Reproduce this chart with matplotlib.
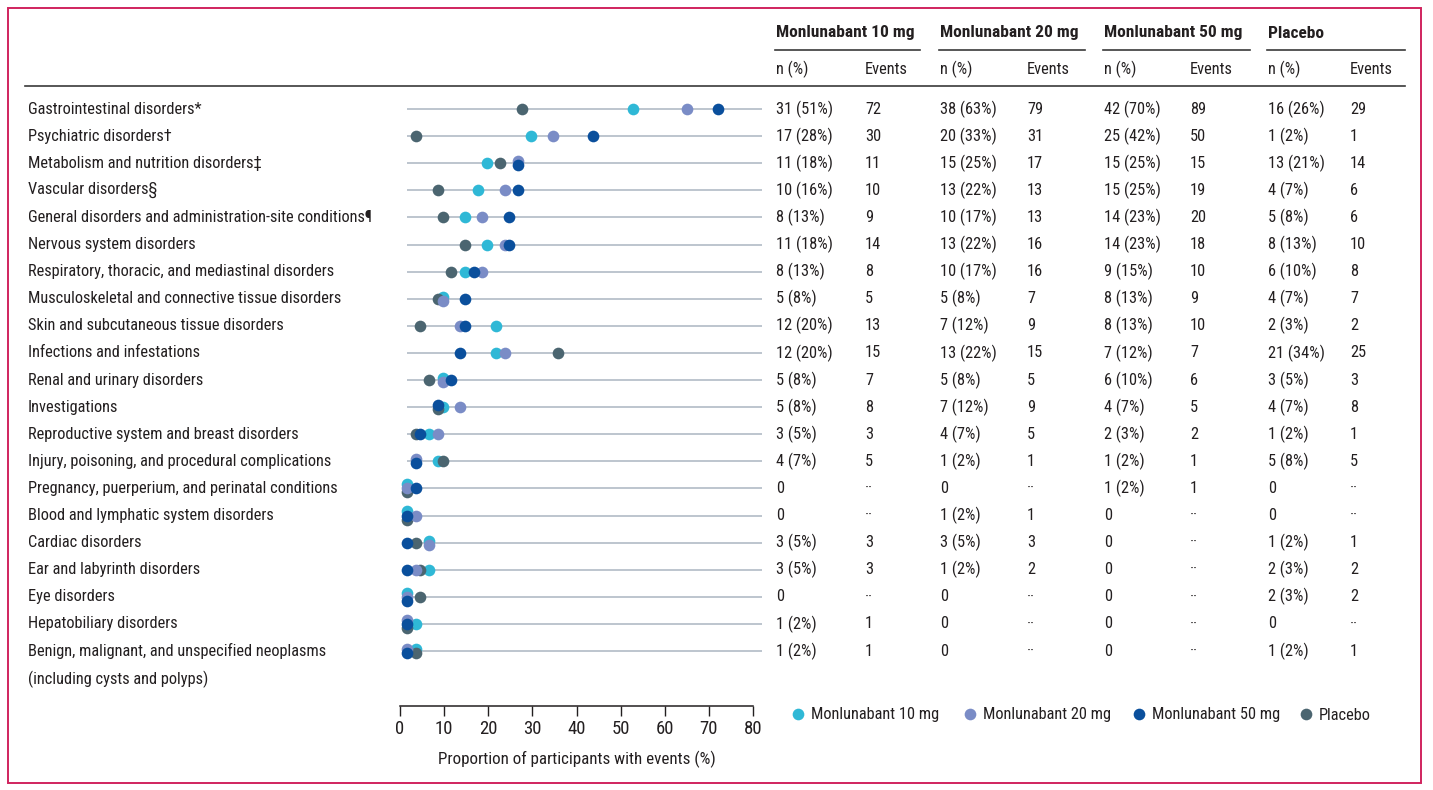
import matplotlib
matplotlib.use('Agg')
import matplotlib.pyplot as plt
from matplotlib import font_manager, transforms
from matplotlib.lines import Line2D
from matplotlib.patches import Rectangle

names = {f.name for f in font_manager.fontManager.ttflist}
FONT = 'Roboto'
for cand in ['Roboto Condensed', 'Liberation Sans Narrow', 'Noto Sans Condensed', 'Open Sans Condensed']:
    if cand in names:
        FONT = cand
        break
plt.rcParams['font.family'] = [FONT, 'DejaVu Sans']

# ---------------- data ----------------
categories = [
    "Gastrointestinal disorders*",
    "Psychiatric disorders\u2020",
    "Metabolism and nutrition disorders\u2021",
    "Vascular disorders\u00a7",
    "General disorders and administration-site conditions\u00b6",
    "Nervous system disorders",
    "Respiratory, thoracic, and mediastinal disorders",
    "Musculoskeletal and connective tissue disorders",
    "Skin and subcutaneous tissue disorders",
    "Infections and infestations",
    "Renal and urinary disorders",
    "Investigations",
    "Reproductive system and breast disorders",
    "Injury, poisoning, and procedural complications",
    "Pregnancy, puerperium, and perinatal conditions",
    "Blood and lymphatic system disorders",
    "Cardiac disorders",
    "Ear and labyrinth disorders",
    "Eye disorders",
    "Hepatobiliary disorders",
    "Benign, malignant, and unspecified neoplasms\n(including cysts and polyps)",
]
series = ["Monlunabant 10 mg", "Monlunabant 20 mg", "Monlunabant 50 mg", "Placebo"]

n_10 = [31, 17, 11, 10, 8, 11, 8, 5, 12, 12, 5, 5, 3, 4, 0, 0, 3, 3, 0, 1, 1]
pct_10 = [51, 28, 18, 16, 13, 18, 13, 8, 20, 20, 8, 8, 5, 7, 0, 0, 5, 5, 0, 2, 2]
ev_10 = [72, 30, 11, 10, 9, 14, 8, 5, 13, 15, 7, 8, 3, 5, None, None, 3, 3, None, 1, 1]

n_20 = [38, 20, 15, 13, 10, 13, 10, 5, 7, 13, 5, 7, 4, 1, 0, 1, 3, 1, 0, 0, 0]
pct_20 = [63, 33, 25, 22, 17, 22, 17, 8, 12, 22, 8, 12, 7, 2, 0, 2, 5, 2, 0, 0, 0]
ev_20 = [79, 31, 17, 13, 13, 16, 16, 7, 9, 15, 5, 9, 5, 1, None, 1, 3, 2, None, None, None]

n_50 = [42, 25, 15, 15, 14, 14, 9, 8, 8, 7, 6, 4, 2, 1, 1, 0, 0, 0, 0, 0, 0]
pct_50 = [70, 42, 25, 25, 23, 23, 15, 13, 13, 12, 10, 7, 3, 2, 2, 0, 0, 0, 0, 0, 0]
ev_50 = [89, 50, 15, 19, 20, 18, 10, 9, 10, 7, 6, 5, 2, 1, 1, None, None, None, None, None, None]

n_pl = [16, 1, 13, 4, 5, 8, 6, 4, 2, 21, 3, 4, 1, 5, 0, 0, 1, 2, 2, 0, 1]
pct_pl = [26, 2, 21, 7, 8, 13, 10, 7, 3, 34, 5, 7, 2, 8, 0, 0, 2, 3, 3, 0, 2]
ev_pl = [29, 1, 14, 6, 6, 10, 8, 7, 2, 25, 3, 8, 1, 5, None, None, 1, 2, 2, None, 1]

x_ticks = [0, 10, 20, 30, 40, 50, 60, 70, 80]
x_label = "Proportion of participants with events (%)"

# ---------------- style ----------------
colors = ["#2fb8d6", "#7a8cc6", "#0a4f9c", "#4b6570"]
zorders = [3, 5, 6, 4]
TXT = "#231f20"
GRID = "#b7c0ca"

W, H = 1433, 790
fig = plt.figure(figsize=(W / 100, H / 100), dpi=100)
renderer = fig.canvas.get_renderer()


def fit_size(s, target_px, weight='normal', ref=12.0):
    t = fig.text(0, 0, s, fontsize=ref, fontweight=weight)
    w = t.get_window_extent(renderer=renderer).width
    t.remove()
    return ref * target_px / w


FS = min(fit_size(categories[4], 344), 12.5)
FSB = min(fit_size(series[0], 142, 'bold'), 12.5)
FSX = min(fit_size(x_label, 279), 13.5)


def fx(px):
    return px / W


def fy(py):
    return 1 - py / H


# border
fig.patches.append(Rectangle((fx(8), fy(783)), fx(1421) - fx(8), fy(8) - fy(783),
                             transform=fig.transFigure, fill=False,
                             edgecolor="#d0245e", linewidth=1.4))

nrows = len(categories)
row_top, row_step = 109, 27.1
ax = fig.add_axes([fx(407), fy(row_top + row_step * (nrows - 0.5)), 355 / W,
                   row_step * nrows / H])
ax.set_xlim(0, 80)
ax.set_ylim(nrows - 0.5, -0.5)
ax.axis('off')

rows = list(range(nrows))
ax.hlines(rows, 0, 80, color=GRID, linewidth=1.3, zorder=1)

pcts = [pct_10, pct_20, pct_50, pct_pl]
step = 0.15
for s, (vals, c) in enumerate(zip(pcts, colors)):
    ys = []
    for r in rows:
        tied = [k for k in range(4) if pcts[k][r] == vals[r]]
        j = tied.index(s)
        ys.append(r + (j - (len(tied) - 1) / 2) * step)
    ax.plot(vals, ys, 'o', ls='', color=c, ms=8.4, mew=0, zorder=zorders[s], clip_on=False)

# labels
blend = transforms.blended_transform_factory(fig.transFigure, ax.transData)
for r, lab in enumerate(categories):
    for k, line in enumerate(lab.split("\n")):
        fig.text(fx(28), r + k * 1.03, line, transform=blend, ha='left', va='center',
                 fontsize=FS, color=TXT)


# table
def cell(n, p):
    return "0" if n == 0 else f"{n} ({p}%)"


col_n = [776, 940, 1104, 1268]
col_e = [865, 1027, 1190, 1350]
group_end = [920, 1085, 1250, 1405]
ns = [n_10, n_20, n_50, n_pl]
evs = [ev_10, ev_20, ev_50, ev_pl]
for g in range(4):
    fig.text(fx(col_n[g]), fy(33), series[g], ha='left', va='center', fontsize=FSB,
             fontweight='bold', color=TXT)
    fig.add_artist(Line2D([fx(col_n[g] - 1), fx(group_end[g])], [fy(50), fy(50)],
                          color="#3a3a3a", lw=1.2))
    fig.text(fx(col_n[g]), fy(69), "n (%)", ha='left', va='center', fontsize=FS, color=TXT)
    fig.text(fx(col_e[g]), fy(69), "Events", ha='left', va='center', fontsize=FS, color=TXT)
    for r in rows:
        fig.text(fx(col_n[g]), r, cell(ns[g][r], pcts[g][r]), transform=blend,
                 ha='left', va='center', fontsize=FS, color=TXT)
        e = evs[g][r]
        fig.text(fx(col_e[g]), r, "\u00b7\u00b7" if e is None else str(e), transform=blend,
                 ha='left', va='center', fontsize=FS, color=TXT)

fig.add_artist(Line2D([fx(25), fx(1405)], [fy(86), fy(86)], color="#3a3a3a", lw=1.2))

# scale axis
ax2 = fig.add_axes([fx(400), fy(706), 353 / W, 0.0001])
ax2.set_xlim(0, 80)
ax2.set_yticks([])
for sp in ['top', 'left', 'right']:
    ax2.spines[sp].set_visible(False)
ax2.spines['bottom'].set_color(TXT)
ax2.spines['bottom'].set_linewidth(1.1)
ax2.set_xticks(x_ticks)
ax2.tick_params(axis='x', direction='out', length=7, width=1.0, color=TXT,
                labelsize=13.5, labelcolor=TXT, pad=3)
ax2.set_xlabel(x_label, fontsize=FSX, color=TXT, labelpad=9)
ax2.patch.set_visible(False)

# legend (one entry per anchor so each sits where the reference shows it)
marker_x = [798, 970, 1139, 1306]
hl, htp = 0.8, 0.4
for c, lab, mx in zip(colors, series, marker_x):
    h = Line2D([], [], marker='o', ls='', color=c, ms=8.4, mew=0)
    half = hl * FS * 100 / 72 / 2
    fig.legend([h], [lab], loc='center left', bbox_to_anchor=(fx(mx - half), fy(715)),
               frameon=False, fontsize=FS, handlelength=hl, handletextpad=htp,
               labelcolor=TXT, borderaxespad=0, borderpad=0)

fig.savefig("out.png", dpi=100)
